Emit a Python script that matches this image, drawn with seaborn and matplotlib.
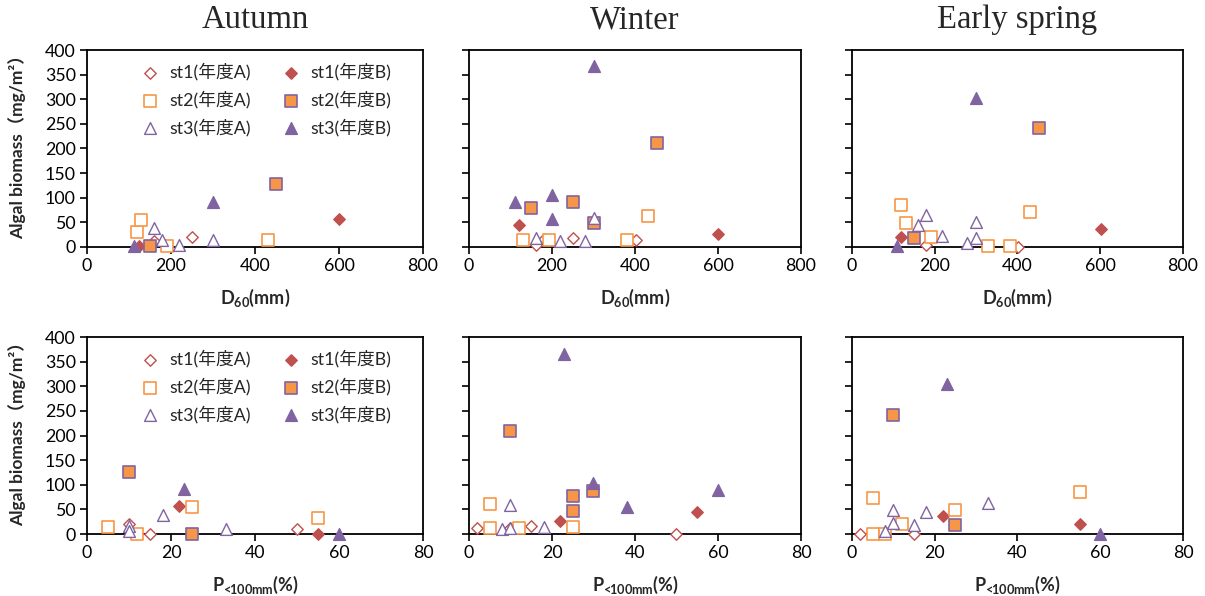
import matplotlib
matplotlib.use("Agg")
import matplotlib.pyplot as plt
import seaborn as sns
import pandas as pd

sns.set_style("ticks")
plt.rcParams["font.family"] = ["Lato", "Noto Sans CJK JP"]
plt.rcParams["mathtext.fontset"] = "custom"
plt.rcParams["mathtext.rm"] = "Lato:bold"
plt.rcParams["mathtext.bf"] = "Lato:bold"

seasons = ["Autumn", "Winter", "Early spring"]
series_names = ["st1(年度A)", "st1(年度B)", "st2(年度A)", "st2(年度B)", "st3(年度A)", "st3(年度B)"]

# D60 (mm) vs algal biomass, per season and series
d60_autumn = {
    "st1(年度A)": ([160, 185, 250], [12, 5, 20]),
    "st1(年度B)": ([123, 600], [2, 57]),
    "st2(年度A)": ([119, 129, 190, 430], [30, 55, 2, 15]),
    "st2(年度B)": ([150, 450], [2, 127]),
    "st3(年度A)": ([160, 178, 219, 300], [38, 15, 5, 15]),
    "st3(年度B)": ([111, 300], [1, 91]),
}
d60_winter = {
    "st1(年度A)": ([161, 181, 251, 402], [4, 16, 18, 14]),
    "st1(年度B)": ([120, 600], [45, 27]),
    "st2(年度A)": ([130, 193, 380, 432], [14, 14, 14, 62]),
    "st2(年度B)": ([150, 251, 301, 452], [80, 91, 48, 211]),
    "st3(年度A)": ([161, 219, 280, 301], [18, 12, 12, 59]),
    "st3(年度B)": ([112, 201, 201, 301], [91, 105, 56, 367]),
}
d60_spring = {
    "st1(年度A)": ([178, 401], [4, 0]),
    "st1(年度B)": ([118, 601], [20, 36]),
    "st2(年度A)": ([119, 130, 190, 330, 381, 430], [85, 48, 20, 3, 3, 72]),
    "st2(年度B)": ([149, 451], [19, 242]),
    "st3(年度A)": ([160, 178, 218, 279, 299, 299], [45, 64, 22, 9, 50, 19]),
    "st3(年度B)": ([110, 299], [2, 303]),
}

# P<100mm (%) vs algal biomass, per season and series
p_autumn = {
    "st1(年度A)": ([10, 15, 50], [20, 1, 10]),
    "st1(年度B)": ([22, 55], [56, 1]),
    "st2(年度A)": ([5, 12, 25, 55], [15, 1, 55, 32]),
    "st2(年度B)": ([10, 25], [126, 0]),
    "st3(年度A)": ([10, 10, 18, 33], [17, 7, 39, 11]),
    "st3(年度B)": ([23, 60], [91, 0]),
}
p_winter = {
    "st1(年度A)": ([2, 10, 15, 50], [13, 13, 16, 1]),
    "st1(年度B)": ([22, 55], [27, 44]),
    "st2(年度A)": ([5, 5, 12, 25], [61, 12, 12, 14]),
    "st2(年度B)": ([10, 25, 25, 30], [210, 78, 46, 88]),
    "st3(年度A)": ([10, 8, 10, 18], [58, 10, 12, 15]),
    "st3(年度B)": ([23, 30, 38, 60], [366, 104, 55, 89]),
}
p_spring = {
    "st1(年度A)": ([2, 15], [0, 1]),
    "st1(年度B)": ([22, 55], [37, 20]),
    "st2(年度A)": ([5, 5, 8, 12, 25, 55], [73, 1, 1, 20, 48, 85]),
    "st2(年度B)": ([10, 25], [242, 18]),
    "st3(年度A)": ([10, 8, 10, 15, 18, 33], [49, 7, 22, 18, 44, 63]),
    "st3(年度B)": ([23, 60], [305, 1]),
}

RED, ORANGE, PURPLE = "#C0504D", "#F79646", "#8064A2"
styles = {
    "st1(年度A)": dict(marker="D", s=34, facecolor="white", edgecolor=RED, linewidth=1.0),
    "st1(年度B)": dict(marker="D", s=34, facecolor=RED, edgecolor=RED, linewidth=1.0),
    "st2(年度A)": dict(marker="s", s=72, facecolor="white", edgecolor=ORANGE, linewidth=1.2),
    "st2(年度B)": dict(marker="s", s=64, facecolor=ORANGE, edgecolor=PURPLE, linewidth=1.2),
    "st3(年度A)": dict(marker="^", s=72, facecolor="white", edgecolor=PURPLE, linewidth=1.0),
    "st3(年度B)": dict(marker="^", s=72, facecolor=PURPLE, edgecolor=PURPLE, linewidth=1.0),
}

rows = [
    (d60_autumn, d60_winter, d60_spring),
    (p_autumn, p_winter, p_spring),
]
xlims = [(0, 800), (0, 80)]
xticks = [[0, 200, 400, 600, 800], [0, 20, 40, 60, 80]]
xlabels = [r"D$_{\mathbf{60}}$(mm)", r"P$_{\mathbf{\!<\!\!100mm}}$(%)"]

fig = plt.figure(figsize=(12.05, 5.96), dpi=100)
lefts = [0.0722, 0.3892, 0.7070]
widths = [0.2788, 0.2755, 0.2747]
bottoms = [0.5856, 0.1040]
height = 0.3305

for r in range(2):
    for c in range(3):
        ax = fig.add_axes([lefts[c], bottoms[r], widths[c], height])
        data = rows[r][c]
        for name in series_names:
            xs, ys = data[name]
            df = pd.DataFrame({"x": xs, "y": ys})
            sns.scatterplot(data=df, x="x", y="y", ax=ax, label=name,
                            clip_on=False, zorder=3, legend=False, **styles[name])
        ax.set_xlim(*xlims[r])
        ax.set_ylim(0, 400)
        ax.set_xticks(xticks[r])
        ax.set_yticks(range(0, 401, 50))
        for sp in ax.spines.values():
            sp.set_visible(True)
            sp.set_color("black")
            sp.set_linewidth(1.3)
        ax.tick_params(axis="both", direction="out", length=5, width=1.2,
                       color="black", labelsize=12.8, labelcolor="black", pad=3)
        ax.set_xlabel(xlabels[r], fontsize=13, fontweight="bold", labelpad=9)
        if c == 0:
            ax.set_ylabel("Algal biomass（mg/m²）", fontsize=12.5, fontweight="bold")
            ax.yaxis.set_label_coords(-0.18, 0.53)
            handles, labels = ax.get_legend_handles_labels()
            order = [0, 2, 4, 1, 3, 5]
            ax.legend([handles[i] for i in order], [labels[i] for i in order],
                      ncol=2, frameon=False, loc="upper center",
                      bbox_to_anchor=(0.52, 1.015), fontsize=12.8,
                      handletextpad=0.05, columnspacing=1.3, labelspacing=0.55,
                      markerscale=1.0)
        else:
            ax.set_ylabel("")
            ax.set_yticklabels([])
        if r == 0:
            ax.text(0.5, 1.075, seasons[c], transform=ax.transAxes, ha="center",
                    va="bottom", fontsize=23.5, family="Liberation Serif")

fig.savefig("out.png", dpi=100, facecolor="white")
